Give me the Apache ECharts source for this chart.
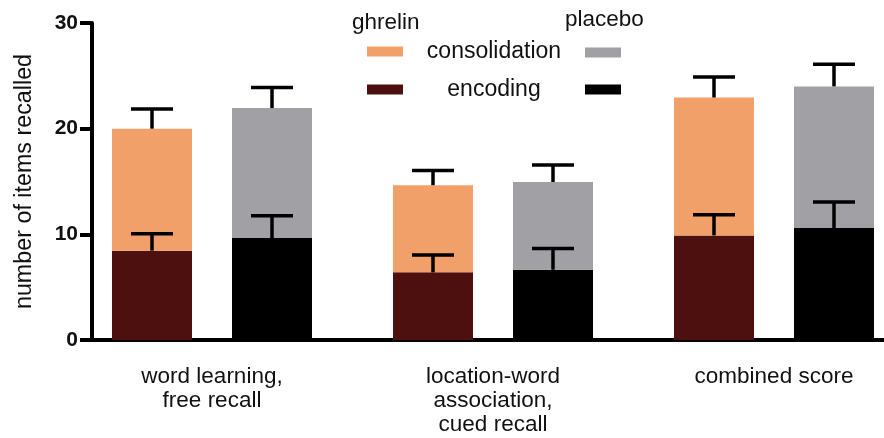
<!DOCTYPE html>
<html>
<head>
<meta charset="utf-8">
<title>Items recalled: ghrelin vs placebo</title>
<script src="https://cdn.jsdelivr.net/npm/echarts@6/dist/echarts.min.js"></script>
<style>
  html, body { margin: 0; padding: 0; background: #fff; }
  #chart { width: 884px; height: 438px; }
</style>
</head>
<body>
<div id="chart"></div>
<script>
// Task categories (x axis)
const categories = ['word learning,\nfree recall', 'location-word\nassociation,\ncued recall', 'combined score'];

// Ghrelin: encoding part and consolidation part stacked on top (means)
const ghrelinEncoding = [8.45, 6.4, 9.9];
const ghrelinConsolidation = [11.55, 8.25, 13.05];
// Ghrelin error (SEM) for encoding and for the stacked total
const ghrelinEncodingErr = [1.6, 1.65, 1.95];
const ghrelinTotalErr = [1.85, 1.4, 1.95];

// Placebo: encoding part and consolidation part stacked on top (means)
const placeboEncoding = [9.65, 6.65, 10.6];
const placeboConsolidation = [12.3, 8.3, 13.4];
// Placebo error (SEM) for encoding and for the stacked total
const placeboEncodingErr = [2.1, 2.0, 2.45];
const placeboTotalErr = [1.95, 1.6, 2.1];

// Y axis ticks
const yTicks = [0, 10, 20, 30];

const FONT = 'Liberation Sans, Arial, Helvetica, sans-serif';
const BAR_W = 80;
const BAR_GAP = 40;
const CAP_HALF = 21;
const SIDE_OFFSET = (BAR_W + BAR_GAP) / 2;

// error-bar records: [category index, bar top, error, side (-1 ghrelin, +1 placebo)]
const errData = [];
categories.forEach((c, i) => {
  errData.push([i, ghrelinEncoding[i], ghrelinEncodingErr[i], -1]);
  errData.push([i, ghrelinEncoding[i] + ghrelinConsolidation[i], ghrelinTotalErr[i], -1]);
  errData.push([i, placeboEncoding[i], placeboEncodingErr[i], 1]);
  errData.push([i, placeboEncoding[i] + placeboConsolidation[i], placeboTotalErr[i], 1]);
});

function renderErrorBar(params, api) {
  const i = api.value(0);
  const top = api.value(1);
  const err = api.value(2);
  const side = api.value(3);
  const p0 = api.coord([i, top]);
  const p1 = api.coord([i, top + err]);
  const x = p0[0] + side * SIDE_OFFSET;
  const style = { stroke: '#000', lineWidth: 3.5 };
  return {
    type: 'group',
    children: [
      { type: 'line', shape: { x1: x, y1: p0[1], x2: x, y2: p1[1] }, style: style },
      { type: 'line', shape: { x1: x - CAP_HALF, y1: p1[1], x2: x + CAP_HALF, y2: p1[1] }, style: style }
    ]
  };
}

const chart = echarts.init(document.getElementById('chart'));
chart.setOption({
  animation: false,
  backgroundColor: '#fff',
  textStyle: { fontFamily: FONT },
  title: [
    { text: 'ghrelin', left: 352, top: 11, padding: 0, textStyle: { fontFamily: FONT, fontSize: 22.5, fontWeight: 'normal', color: '#111' } },
    { text: 'placebo', left: 565, top: 8, padding: 0, textStyle: { fontFamily: FONT, fontSize: 22.5, fontWeight: 'normal', color: '#111' } }
  ],
  legend: [
    {
      data: ['consolidation', 'encoding'],
      orient: 'vertical',
      left: 367, top: 40, padding: 0,
      icon: 'rect', itemWidth: 36, itemHeight: 10, itemGap: 15,
      selectedMode: false,
      formatter: '{t|{name}}',
      textStyle: {
        fontFamily: FONT, fontSize: 23, color: '#111',
        rich: { t: { width: 172, align: 'center', fontSize: 23, lineHeight: 25, fontFamily: FONT, color: '#111' } }
      }
    },
    {
      data: ['placebo consolidation', 'placebo encoding'],
      orient: 'vertical',
      left: 585, top: 40, padding: 0,
      icon: 'rect', itemWidth: 36, itemHeight: 10, itemGap: 12,
      selectedMode: false,
      formatter: function () { return ' '; },
      textStyle: { fontSize: 23, lineHeight: 25 }
    }
  ],
  grid: [
    // bars: category bands sized so groups sit where the axes expect them
    { left: 71.5, width: 843, top: 23, height: 317, outerBoundsMode: 'none', containLabel: false },
    // visible axes frame
    { left: 92, right: 0, top: 23, height: 317, outerBoundsMode: 'none', containLabel: false }
  ],
  xAxis: [
    {
      gridIndex: 0, type: 'category', data: categories,
      axisLine: { show: false }, axisTick: { show: false },
      axisLabel: { margin: 25, fontFamily: FONT, fontSize: 22.5, lineHeight: 24, color: '#111', interval: 0 }
    },
    {
      gridIndex: 1, type: 'category', data: categories,
      axisLine: { show: true, lineStyle: { color: '#000', width: 4 } },
      axisTick: { show: false }, axisLabel: { show: false }
    }
  ],
  yAxis: [
    { gridIndex: 0, type: 'value', min: yTicks[0], max: yTicks[yTicks.length - 1], interval: 10, show: false },
    {
      gridIndex: 1, type: 'value', min: yTicks[0], max: yTicks[yTicks.length - 1], interval: 10,
      name: 'number of items recalled', nameLocation: 'middle', nameGap: 56,
      nameTextStyle: { fontFamily: FONT, fontSize: 23.3, color: '#111' },
      axisLine: { show: true, lineStyle: { color: '#000', width: 4 } },
      axisTick: { show: true, length: 12, lineStyle: { color: '#000', width: 4 } },
      axisLabel: { margin: 14, fontFamily: FONT, fontSize: 21, fontWeight: 'bold', color: '#111' },
      splitLine: { show: false }
    }
  ],
  series: [
    { name: 'encoding', type: 'bar', stack: 'ghrelin', xAxisIndex: 0, yAxisIndex: 0,
      data: ghrelinEncoding, barWidth: BAR_W, barGap: (BAR_GAP / BAR_W * 100) + '%',
      itemStyle: { color: '#4e0f0f' } },
    { name: 'consolidation', type: 'bar', stack: 'ghrelin', xAxisIndex: 0, yAxisIndex: 0,
      data: ghrelinConsolidation, barWidth: BAR_W,
      itemStyle: { color: '#f0a068' } },
    { name: 'placebo encoding', type: 'bar', stack: 'placebo', xAxisIndex: 0, yAxisIndex: 0,
      data: placeboEncoding, barWidth: BAR_W, barGap: (BAR_GAP / BAR_W * 100) + '%',
      itemStyle: { color: '#000000' } },
    { name: 'placebo consolidation', type: 'bar', stack: 'placebo', xAxisIndex: 0, yAxisIndex: 0,
      data: placeboConsolidation, barWidth: BAR_W,
      itemStyle: { color: '#a1a0a5' } },
    { name: 'error', type: 'custom', xAxisIndex: 0, yAxisIndex: 0, z: 5,
      renderItem: renderErrorBar, encode: { x: 0, y: 1 }, data: errData, silent: true }
  ]
});
</script>
</body>
</html>
